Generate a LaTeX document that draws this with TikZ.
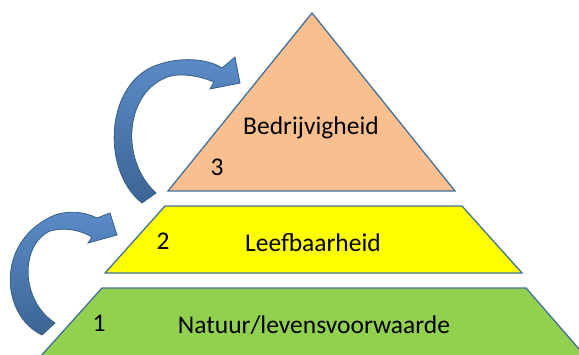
\documentclass[tikz,border=0pt]{standalone}
\usepackage{fontspec}
\setmainfont{Carlito}
\definecolor{edge}{HTML}{41719C}
\definecolor{peach}{HTML}{F9BF8F}
\definecolor{yel}{HTML}{FFFF00}
\definecolor{grn}{HTML}{92D050}
\definecolor{arrlight}{HTML}{5B8BC8}
\definecolor{arrdark}{HTML}{3C6594}
\tikzset{
  layer/.style={draw=edge, line width=1.3pt, line join=miter},
  lbl/.style={inner sep=0pt, font=\fontsize{25.5}{30}\selectfont},
  curvarrow/.style={draw=edge!85!black, line width=0.8pt, top color=arrlight, bottom color=arrdark}
}
\begin{document}
\begin{tikzpicture}[x=1pt,y=-1pt]
\useasboundingbox (0,0) rectangle (579,354);
% layers
\path[layer, fill=grn] (102,288) -- (526,288) -- (586,357) -- (40,357) -- cycle;
\path[layer, fill=yel] (165,206) -- (462,206) -- (522,273) -- (105,273) -- cycle;
\path[layer, fill=peach] (312,13) -- (455,191) -- (168,191) -- cycle;
% labels
\node[lbl] (t3) at (311,128) {Bedrijvigheid};
\node[lbl] (n3) at (217,167) {3};
\node[lbl] (t2) at (313,243) {Leefbaarheid};
\node[lbl] (n2) at (163,241) {2};
\node[lbl] (t1) at (314,325) {Natuur/levensvoorwaarde};
\node[lbl] (n1) at (99,323) {1};
% upper curved arrow
\path[curvarrow] (142,203) .. controls (100,170) and (105,80) .. (160,64)
  .. controls (185,56) and (210,60) .. (222,68) -- (235,57) -- (240,83) -- (210,89) -- (214,82)
  .. controls (195,74) and (175,73) .. (165,78)
  .. controls (125,95) and (120,160) .. (156,193) -- cycle;
% lower curved arrow
\path[curvarrow] (42,335) .. controls (0,315) and (-5,240) .. (55,215)
  .. controls (70,210) and (85,212) .. (97,218) -- (110,213) -- (117,235) -- (88,243) -- (92,237)
  .. controls (80,230) and (65,227) .. (50,231)
  .. controls (20,245) and (20,300) .. (55,323) -- cycle;
\end{tikzpicture}
\end{document}
